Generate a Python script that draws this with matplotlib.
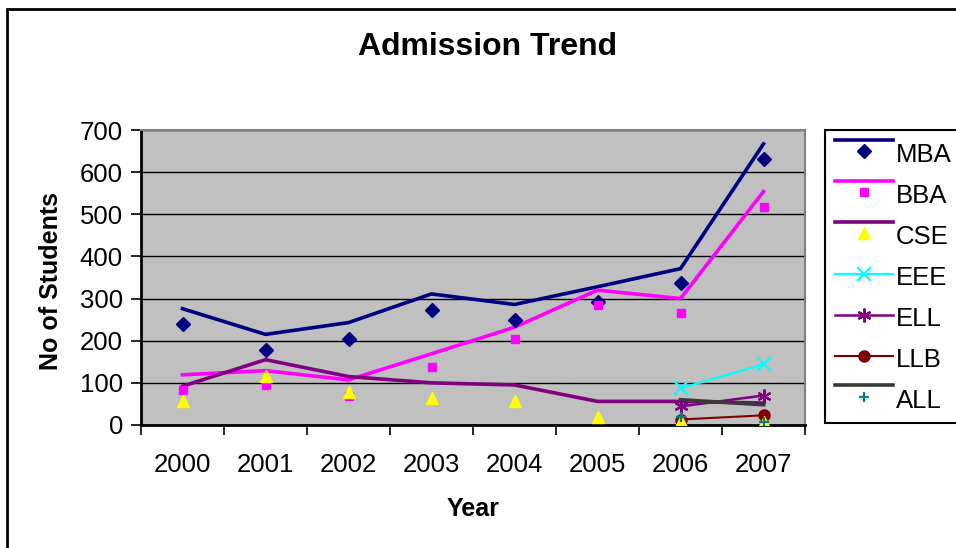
import matplotlib
matplotlib.use("Agg")
import numpy as np
import matplotlib.pyplot as plt
from matplotlib.lines import Line2D
from matplotlib.legend_handler import HandlerBase
from matplotlib.patches import Rectangle

plt.rcParams['font.family'] = ['Liberation Sans', 'DejaVu Sans']

nan = np.nan
years = ['2000', '2001', '2002', '2003', '2004', '2005', '2006', '2007']

# line series (drawn as plain lines)
mba_line = [276, 215, 243, 311, 286, 328, 371, 667]
bba_line = [119, 129, 107, 169, 232, 320, 300, 554]
cse_line = [92, 155, 115, 100, 95, 56, 56, 52]
all_line = [nan, nan, nan, nan, nan, nan, 60, 48]

# marker series
mba_pts = [240, 178, 205, 272, 250, 292, 336, 631]
bba_pts = [84, 94, 70, 137, 204, 284, 266, 517]
cse_pts = [58, 116, 78, 63, 58, 20, 10, 6]
all_pts = [nan, nan, nan, nan, nan, nan, 18, 8]

# line + marker series
eee = [nan, nan, nan, nan, nan, nan, 87, 144]
ell = [nan, nan, nan, nan, nan, nan, 44, 70]
llb = [nan, nan, nan, nan, nan, nan, 13, 23]

NAVY = '#000080'
MAGENTA = '#FF00FF'
PURPLE = '#800080'
YELLOW = '#FFFF00'
CYAN = '#00FFFF'
MAROON = '#800000'
DARKGRAY = '#3A3A3A'
TEAL = '#008080'
STAR = (6, 2, 0)
FS = 18.5


class StackedHandler(HandlerBase):
    """Legend key with the line drawn above the marker (Excel style)."""
    def create_artists(self, legend, orig_handle, xdescent, ydescent,
                       width, height, fontsize, trans):
        line_kw, mark_kw = orig_handle
        y0 = (height - ydescent) / 2
        x = [-xdescent, -xdescent + width]
        top = Line2D(x, [y0 + 0.45 * fontsize] * 2, **line_kw)
        mk = Line2D([-xdescent + width / 2], [y0], linestyle='', **mark_kw)
        top.set_transform(trans)
        mk.set_transform(trans)
        return [top, mk]


class Key(tuple):
    pass


fig = plt.figure(figsize=(9.56, 5.48), dpi=100)
ax = fig.add_axes([141 / 956, 1 - 425 / 548, 664 / 956, 295 / 548])
ax.set_facecolor('#C0C0C0')

x = np.arange(len(years))

ax.plot(x, mba_line, color=NAVY, lw=2.6, zorder=3)
ax.plot(x, bba_line, color=MAGENTA, lw=2.6, zorder=3)
ax.plot(x, cse_line, color=PURPLE, lw=2.6, zorder=3)
ax.plot(x, eee, color=CYAN, lw=1.6, marker='x', ms=9.5, mew=1.6, zorder=4)
ax.plot(x, ell, color=PURPLE, lw=1.8, marker=STAR, ms=10, mew=1.6, zorder=4)
ax.plot(x, llb, color=MAROON, lw=1.5, marker='o', ms=8, zorder=4)
ax.plot(x, all_line, color=DARKGRAY, lw=2.6, zorder=4)

ax.plot(x, mba_pts, ls='', marker='D', ms=7.5, color=NAVY, zorder=5)
ax.plot(x, bba_pts, ls='', marker='s', ms=5.5, color=MAGENTA, zorder=5)
ax.plot(x, cse_pts, ls='', marker='^', ms=8.5, color=YELLOW, zorder=5)
ax.plot(x, all_pts, ls='', marker='+', ms=7, mew=1.6, color=TEAL, zorder=6)

ax.set_xlim(-0.5, len(years) - 0.5)
ax.set_ylim(0, 700)
ax.set_yticks(np.arange(0, 701, 100))
ax.yaxis.grid(True, color='black', lw=1)
ax.set_axisbelow(True)

ax.set_xticks(np.arange(-0.5, len(years), 1))
ax.set_xticklabels([])
ax.set_xticks(x, minor=True)
ax.set_xticklabels(years, minor=True)
ax.tick_params(axis='x', which='major', direction='out', length=7, width=1.2)
ax.tick_params(axis='x', which='minor', length=0, pad=20, labelsize=FS)
ax.tick_params(axis='y', direction='out', length=7, width=1.2, pad=6, labelsize=FS)

for side in ('left', 'bottom'):
    ax.spines[side].set_color('black')
    ax.spines[side].set_linewidth(2)
for side in ('top', 'right'):
    ax.spines[side].set_color('#808080')
    ax.spines[side].set_linewidth(1.5)

fig.text(487 / 956, 1 - 47 / 548, 'Admission Trend', ha='center', va='center',
         fontsize=23, fontweight='bold')
fig.text(51 / 956, 1 - 281 / 548, 'No of Students', ha='center', va='center',
         rotation=90, fontsize=18, fontweight='bold')
fig.text(473 / 956, 1 - 509 / 548, 'Year', ha='center', va='center',
         fontsize=18, fontweight='bold')

# outer chart border (runs off the right/bottom edge)
fig.patches.append(Rectangle((7 / 956, -0.2), 1.5, 1.2 - 9 / 548, fill=False,
                             lw=2, edgecolor='black', transform=fig.transFigure))

handles = [
    Key(({'color': NAVY, 'lw': 2.6}, {'marker': 'D', 'ms': 7.5, 'color': NAVY})),
    Key(({'color': MAGENTA, 'lw': 2.6}, {'marker': 's', 'ms': 5.5, 'color': MAGENTA})),
    Key(({'color': PURPLE, 'lw': 2.6}, {'marker': '^', 'ms': 8.5, 'color': YELLOW})),
    Line2D([], [], color=CYAN, lw=1.6, marker='x', ms=9.5, mew=1.6),
    Line2D([], [], color=PURPLE, lw=1.8, marker=STAR, ms=10, mew=1.6),
    Line2D([], [], color=MAROON, lw=1.5, marker='o', ms=8),
    Key(({'color': DARKGRAY, 'lw': 2.6}, {'marker': '+', 'ms': 7, 'mew': 1.6, 'color': TEAL})),
]
labels = ['MBA', 'BBA', 'CSE', 'EEE', 'ELL', 'LLB', 'ALL']
leg = fig.legend(handles, labels, loc='upper left',
                 bbox_to_anchor=(825 / 956, 1 - 130 / 548), borderaxespad=0,
                 handler_map={Key: StackedHandler()}, numpoints=1,
                 fontsize=FS, handlelength=2.25, handleheight=1.2,
                 labelspacing=0.55, handletextpad=0.1, borderpad=0.4,
                 fancybox=False, framealpha=1, edgecolor='black')
leg.get_frame().set_linewidth(1.5)

fig.savefig('out.png', dpi=100)
